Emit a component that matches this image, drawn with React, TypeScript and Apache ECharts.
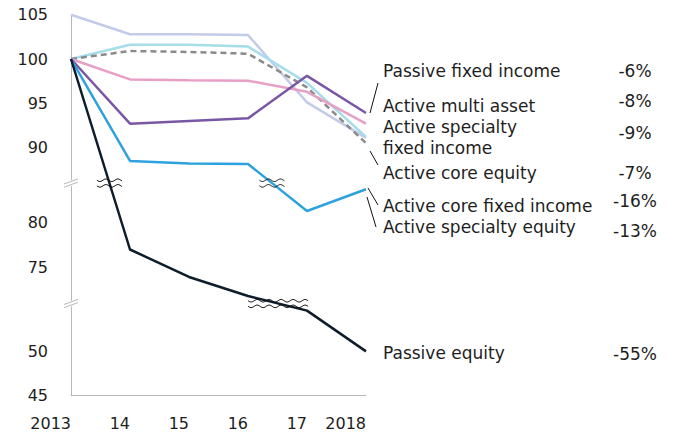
import React, { useEffect, useRef } from "react";
import * as echarts from "echarts";

// ---------- data ----------
const years = ["2013", "14", "15", "16", "17", "2018"];

const seriesNames = [
  "Active specialty equity",
  "Active specialty fixed income",
  "Active core equity",
  "Active multi asset",
  "Passive fixed income",
  "Active core fixed income",
  "Passive equity",
];
const activeSpecialtyEquity = [105, 102.8, 102.8, 102.7, 95.1, 91.1];
const activeSpecialtyFixedIncome = [100, 101.6, 101.6, 101.4, 97.3, 91.2];
const activeCoreEquity = [100, 100.9, 100.8, 100.6, 96.8, 90.5];
const activeMultiAsset = [100, 97.7, 97.6, 97.55, 96.3, 92.7];
const passiveFixedIncome = [100, 92.7, 93.0, 93.3, 98.1, 93.9];
const activeCoreFixedIncome = [100, 88.5, 88.2, 88.15, 81.35, 83.8];
const passiveEquity = [100, 77.0, 73.9, 71.75, 54.6, 50.0];

const yTickValues = [105, 100, 95, 90, 80, 75, 50, 45];

const labelTexts = [
  "Passive fixed income",
  "Active multi asset",
  "Active specialty\nfixed income",
  "Active core equity",
  "Active core fixed income",
  "Active specialty equity",
  "Passive equity",
];
const changeTexts = ["-6%", "-8%", "-9%", "-7%", "-16%", "-13%", "-55%"];

// ---------- layout / styles ----------
const W = 677;
const H = 438;
const FONT = "DejaVu Sans";
const TEXT = "#1e1e1e";
const AXIS = "#b8b8b8";
const colors = ["#c3cbe9", "#a6dde9", "#8a8a8a", "#e79fc6", "#7a57a5", "#2ea2df", "#0e1d2c"];
const dashed = [false, false, true, false, false, false, false];

// broken axis: display coordinate = value + shift, by segment
const BREAK_LEVELS = [86, 72.4]; // display coordinates where the axis is broken
function toDisplay(v: number): number {
  if (v >= 85) return v;
  if (v >= 65) return v + 1.5;
  return v + 17;
}
function fromDisplay(d: number): number {
  if (d >= 86) return d;
  if (d >= 72.4) return d - 1.5;
  return d - 17;
}

const labelY = [70.8, 105.8, 137.8, 173.4, 205.8, 226.8, 353];
const changeY = [70.8, 101.4, 133.4, 173.4, 200.8, 230.8, 354];
const LABEL_X = 383;
const CHANGE_X = 635;
const connectors = [
  [378, 83, 370, 113],
  [370, 151, 378, 165],
  [368, 188, 378, 205],
  [367, 197, 376, 227],
];

function wave(x0: number, x1: number, y: number): number[][] {
  const pts: number[][] = [];
  for (let x = x0; x <= x1 + 0.01; x += 1) {
    pts.push([x, y + 1.3 * Math.sin(((x - x0) / 12) * 2 * Math.PI)]);
  }
  return pts;
}

export default function App() {
  const ref = useRef<HTMLDivElement>(null);

  useEffect(() => {
    document.body.style.margin = "0";
    if (!ref.current) return;
    const chart = echarts.init(ref.current, undefined, { renderer: "svg" });

    const allData = [
      activeSpecialtyEquity,
      activeSpecialtyFixedIncome,
      activeCoreEquity,
      activeMultiAsset,
      passiveFixedIncome,
      activeCoreFixedIncome,
      passiveEquity,
    ];
    const displayData = allData.map((arr) => arr.map(toDisplay));

    chart.setOption({
      animation: false,
      textStyle: { fontFamily: FONT },
      grid: { left: 71, right: W - 366, top: 14.7, bottom: 42.3, containLabel: false },
      xAxis: {
        type: "category",
        data: years,
        boundaryGap: false,
        axisLine: { show: true, lineStyle: { color: AXIS, width: 1 } },
        axisTick: { show: false },
        axisLabel: {
          interval: 0,
          align: "right",
          margin: 20,
          fontSize: 16,
          color: TEXT,
          fontFamily: FONT,
        },
        splitLine: { show: false },
      },
      yAxis: {
        type: "value",
        min: 62,
        max: 105,
        axisLine: { show: true, lineStyle: { color: AXIS, width: 1 } },
        axisTick: { show: false },
        splitLine: { show: false },
        axisLabel: {
          customValues: yTickValues.map(toDisplay),
          formatter: (d: number) => String(Math.round(fromDisplay(d))),
          margin: 23,
          fontSize: 16,
          color: TEXT,
          fontFamily: FONT,
        },
      },
      series: displayData.map((d, i) => ({
        name: seriesNames[i],
        type: "line",
        data: d,
        symbol: "none",
        z: 2 + i,
        lineStyle: {
          color: colors[i],
          width: 2.5,
          type: dashed[i] ? [6, 4] : "solid",
        },
      })),
    });

    // ---------- decorations computed from the scales ----------
    const graphics: any[] = [];
    const px = (i: number, d: number) =>
      chart.convertToPixel({ xAxisIndex: 0, yAxisIndex: 0 }, [i, d]) as number[];

    // axis break marks
    BREAK_LEVELS.forEach((L) => {
      const [x, y] = px(0, L);
      graphics.push({
        type: "rect",
        shape: { x: x - 2, y: y - 2.8, width: 4, height: 5.6 },
        style: { fill: "#ffffff" },
        z: 50,
      });
      [-1.6, 1.6].forEach((k) => {
        graphics.push({
          type: "line",
          shape: { x1: x - 7, y1: y + 2.5 + k, x2: x + 7, y2: y - 2.5 + k },
          style: { stroke: AXIS, lineWidth: 1 },
          z: 51,
        });
      });
    });

    // line break marks where a series crosses a break level
    displayData.forEach((d) => {
      for (let i = 0; i < d.length - 1; i++) {
        BREAK_LEVELS.forEach((L) => {
          if ((d[i] - L) * (d[i + 1] - L) < 0) {
            const t = (d[i] - L) / (d[i] - d[i + 1]);
            const p0 = px(i, d[i]);
            const p1 = px(i + 1, d[i + 1]);
            const cx = p0[0] + t * (p1[0] - p0[0]);
            const cy = p0[1] + t * (p1[1] - p0[1]);
            const dx = Math.abs(p1[0] - p0[0]);
            const dy = Math.abs(p1[1] - p0[1]);
            const w = Math.min(Math.max((15 * dx) / dy, 25), dx + 2);
            [-2.8, 2.8].forEach((o) => {
              graphics.push({
                type: "polyline",
                shape: { points: wave(cx - w / 2, cx + w / 2, cy + o) },
                style: { stroke: "#111111", lineWidth: 1, fill: null },
                z: 60,
              });
            });
          }
        });
      }
    });

    connectors.forEach((c) => {
      graphics.push({
        type: "line",
        shape: { x1: c[0], y1: c[1], x2: c[2], y2: c[3] },
        style: { stroke: "#111111", lineWidth: 1 },
        z: 60,
      });
    });

    labelTexts.forEach((t, i) => {
      graphics.push({
        type: "text",
        x: LABEL_X,
        y: labelY[i],
        style: {
          text: t,
          fill: TEXT,
          fontSize: 17,
          fontFamily: FONT,
          lineHeight: 21,
          align: "left",
          verticalAlign: "middle",
        },
        z: 70,
      });
    });
    changeTexts.forEach((t, i) => {
      graphics.push({
        type: "text",
        x: CHANGE_X,
        y: changeY[i],
        style: {
          text: t,
          fill: TEXT,
          fontSize: 17,
          fontFamily: FONT,
          align: "center",
          verticalAlign: "middle",
        },
        z: 70,
      });
    });

    chart.setOption({ graphic: graphics });

    return () => chart.dispose();
  }, []);

  return <div ref={ref} style={{ width: W, height: H }} />;
}
